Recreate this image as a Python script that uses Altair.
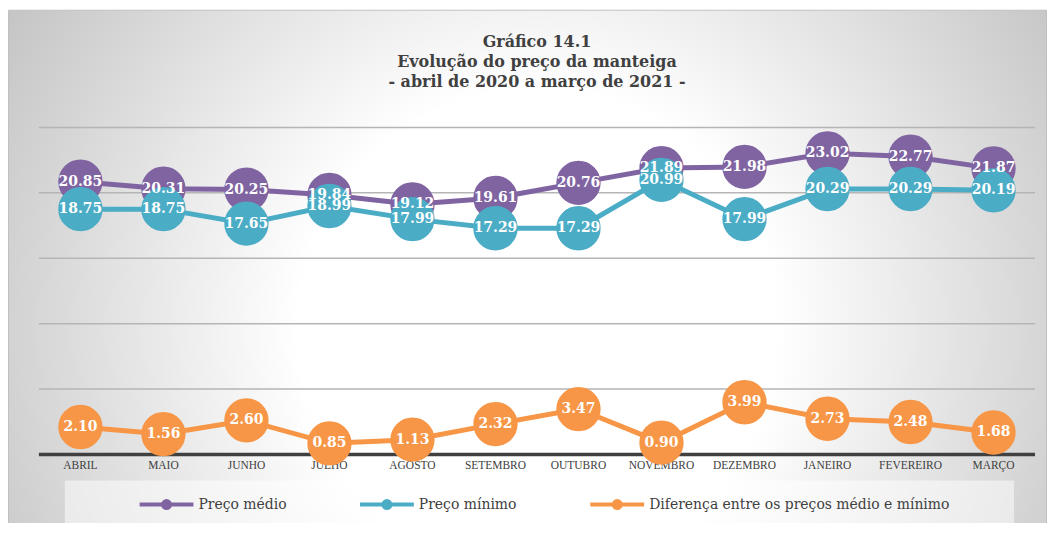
import altair as alt
import pandas as pd

# ---------------- data ----------------
months = ["ABRIL", "MAIO", "JUNHO", "JULHO", "AGOSTO", "SETEMBRO", "OUTUBRO",
          "NOVEMBRO", "DEZEMBRO", "JANEIRO", "FEVEREIRO", "MARÇO"]
preco_medio = [20.85, 20.31, 20.25, 19.84, 19.12, 19.61, 20.76, 21.89, 21.98, 23.02, 22.77, 21.87]
preco_minimo = [18.75, 18.75, 17.65, 18.99, 17.99, 17.29, 17.29, 20.99, 17.99, 20.29, 20.29, 20.19]
diferenca = [2.10, 1.56, 2.60, 0.85, 1.13, 2.32, 3.47, 0.90, 3.99, 2.73, 2.48, 1.68]
series_names = ["Preço médio", "Preço mínimo", "Diferença entre os preços médio e mínimo"]
series_colors = ["#8064A2", "#4BACC6", "#F79646"]
y_ticks = [0, 5, 10, 15, 20, 25]
title_lines = ["Gráfico 14.1", "Evolução do preço da manteiga", "- abril de 2020 a março de 2021 -"]

rows = []
for name, vals in zip(series_names, [preco_medio, preco_minimo, diferenca]):
    for m, v in zip(months, vals):
        rows.append({"month": m, "series": name, "value": v})
df = pd.DataFrame(rows)
one_df = pd.DataFrame({"k": [0]})
grid_df = pd.DataFrame({"tick": y_ticks[1:]})
axis_df = pd.DataFrame({"tick": y_ticks[:1]})
month_df = pd.DataFrame({"month": months})

# ---------------- layout ----------------
W, H = 999, 328
PAD = {"left": 31, "top": 119, "right": 12, "bottom": 68}

x_enc = alt.X("month:N", sort=months, scale=alt.Scale(type="point", padding=0.5), axis=None)
y_scale = alt.Scale(domain=[0, 25], nice=False, zero=True)
y_enc = alt.Y("value:Q", scale=y_scale, axis=None)

legend = alt.Legend(
    title=None, orient="none", legendX=99, legendY=349, direction="horizontal",
    symbolType="M-1,0L1,0M-0.13,0A0.13,0.13,0,1,1,0.13,0A0.13,0.13,0,1,1,-0.13,0Z",
    symbolSize=2916, symbolStrokeWidth=4,
    labelFont="DejaVu Serif", labelFontSize=14, labelColor="#404040",
    labelOffset=3, columnPadding=65, labelLimit=400,
)
color_scale = alt.Scale(domain=series_names, range=series_colors)
stroke_enc = alt.Stroke("series:N", scale=color_scale, legend=legend)
fill_enc = alt.Fill("series:N", scale=color_scale, legend=legend)

background = alt.Chart(one_df).mark_rect(
    fill=alt.RadialGradient(
        gradient="radial",
        stops=[alt.GradientStop(offset=0, color="#ffffff"),
               alt.GradientStop(offset=1, color="#c4c4c4")],
        x1=0.51, y1=0.555, r1=0.23, x2=0.51, y2=0.555, r2=0.6,
    ),
    stroke="#c0c0c0", strokeWidth=1,
).encode(x=alt.value(-30.5), x2=alt.value(W + 11.5), y=alt.value(-117.5), y2=alt.value(H + 80))

legend_box = alt.Chart(one_df).mark_rect(fill="#ffffff", fillOpacity=0.5).encode(
    x=alt.value(26), x2=alt.value(978), y=alt.value(354), y2=alt.value(398)
)

grid = alt.Chart(grid_df).mark_rule(color="#b5b5b5", strokeWidth=1.5).encode(
    y=alt.Y("tick:Q", scale=y_scale, axis=None), x=alt.value(0), x2=alt.value(W)
)
axis_line = alt.Chart(axis_df).mark_rule(color="#404040", strokeWidth=3.5).encode(
    y=alt.Y("tick:Q", scale=y_scale, axis=None), x=alt.value(0), x2=alt.value(W)
)
xlabels = alt.Chart(month_df).mark_text(
    font="Liberation Serif", fontSize=11.5, color="#404040", baseline="middle"
).encode(x=x_enc, y=alt.value(H + 12), text="month:N")

layers = []
for name in series_names:
    sub = alt.Chart(df).transform_filter(alt.datum.series == name)
    layers.append(sub.mark_line(strokeWidth=5).encode(x=x_enc, y=y_enc, stroke=stroke_enc))
    layers.append(sub.mark_point(filled=True, size=1800, opacity=1).encode(
        x=x_enc, y=y_enc, fill=fill_enc, stroke=stroke_enc))

labels = alt.Chart(df).mark_text(
    font="DejaVu Serif", fontWeight="bold", fontSize=14, color="white", baseline="middle"
).encode(x=x_enc, y=y_enc, text=alt.Text("value:Q", format=".2f"))

chart = alt.layer(background, legend_box, grid, axis_line, xlabels, *layers, labels).properties(
    width=W, height=H, padding=PAD, autosize=alt.AutoSizeParams(type="none"),
    title=alt.Title(title_lines, font="DejaVu Serif", fontSize=16, fontWeight="bold",
                    color="#404040", lineHeight=20, anchor="middle", offset=0, dy=80,
                    frame="group"),
).configure_view(stroke=None).configure(background="white")

chart.save("out.html", embed_options={"renderer": "svg", "actions": False})
